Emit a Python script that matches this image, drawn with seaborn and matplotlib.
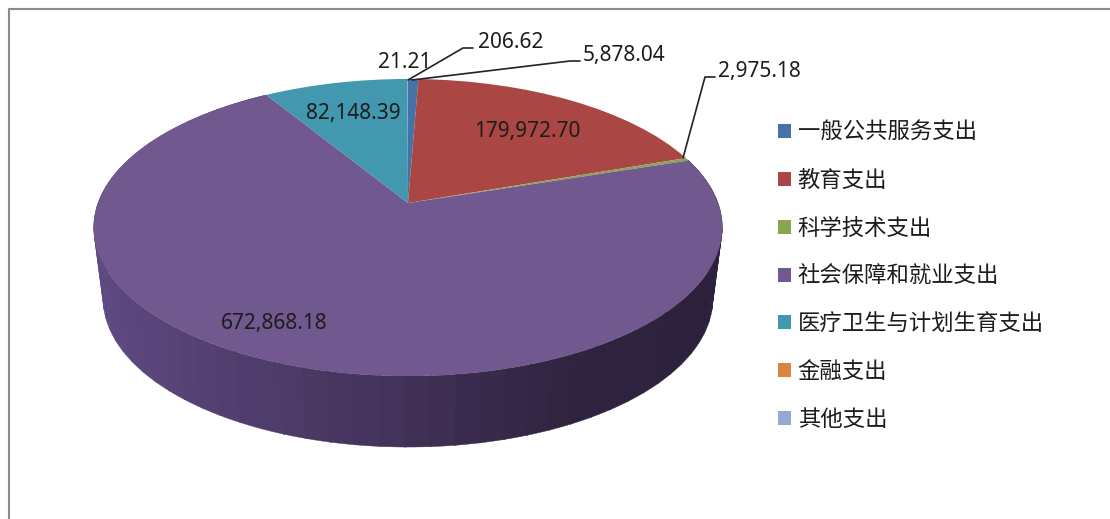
import numpy as np
import matplotlib
matplotlib.use("Agg")
import matplotlib.pyplot as plt
from matplotlib.transforms import Transform
import seaborn as sns

categories = ["一般公共服务支出", "教育支出", "科学技术支出", "社会保障和就业支出",
              "医疗卫生与计划生育支出", "金融支出", "其他支出"]
values = [5878.04, 179972.70, 2975.18, 672868.18, 82148.39, 21.21, 206.62]
colors = ["#4572A7", "#AA4643", "#89A54E", "#71588F", "#4198AF", "#DB843D", "#93A9CF"]

sns.set_theme(style="white")
plt.rcParams["font.family"] = ["Noto Sans CJK SC", "DejaVu Sans"]

APEX_X, APEX_Y = 408.0, 203.0
A, B, K = 310.0, 144.5, 0.165
DEPTH = 71.0


def project(xy):
    # tilted disc: unit circle to pixel coordinates
    x, y = xy[:, 0], xy[:, 1]
    d = 1 + K * y
    return np.column_stack([APEX_X + A * x / d, APEX_Y - B * y / d])


class Tilt(Transform):
    input_dims = 2
    output_dims = 2

    def transform_non_affine(self, xy):
        return project(np.asarray(xy))


fig = plt.figure(figsize=(11.1, 5.19), dpi=100)
ax = fig.add_axes([0, 0, 1, 1])

wedges, _ = ax.pie(values, colors=colors, startangle=90, counterclock=False,
                   wedgeprops={"linewidth": 0})
for w in wedges:
    w.set_transform(Tilt() + ax.transData)
    w.set_zorder(3)
    w.set_clip_on(False)

ax.set_aspect("auto")
ax.set_xlim(0, 1110)
ax.set_ylim(519, 0)
ax.axis("off")

# side of the pie, only the big slice shows there
big = wedges[categories.index("社会保障和就业支出")]
edges = np.arange(big.theta1, big.theta2 + 4, 4.0)
for t0, t1 in zip(edges[:-1], edges[1:]):
    t = np.radians(np.linspace(t0, min(t1, big.theta2) + 0.3, 4))
    top = project(np.column_stack([np.cos(t), np.sin(t)]))
    low = top.copy()
    low[:, 0] = APEX_X + (low[:, 0] - APEX_X) * 0.97
    low[:, 1] += DEPTH
    px = low[:, 0].mean()
    c = [np.interp(px, [100, 400, 560, 715], ch)
         for ch in ([95, 66, 48, 44], [74, 49, 36, 33], [130, 88, 65, 60])]
    ax.fill(np.r_[top[:, 0], low[::-1, 0]], np.r_[top[:, 1], low[::-1, 1]],
            color=np.array(c) / 255, lw=0.3, zorder=2)

# data labels
text_c = "#1c1c1c"
num = dict(fontsize=15, family="Noto Sans", color=text_c, va="center", zorder=5)
fmt = lambda v: f"{v:,.2f}"
ax.text(527, 131, fmt(values[1]), ha="center", **num)
ax.text(353, 113, fmt(values[4]), ha="center", **num)
ax.text(274, 324, fmt(values[3]), ha="center", **num)
ax.text(405, 63, fmt(values[5]), ha="center", **num)
ax.text(478, 42, fmt(values[6]), ha="left", **num)
ax.text(583, 55, fmt(values[0]), ha="left", **num)
ax.text(718, 72, fmt(values[2]), ha="left", **num)

# leader lines
ax.plot([408, 463, 473], [80, 48, 48], color="#222222", lw=1.2, zorder=4)
ax.plot([412, 570, 580], [80, 61, 61], color="#222222", lw=1.2, zorder=4)
ax.plot([683, 705, 715], [158, 77, 77], color="#222222", lw=1.2, zorder=4)

ax.legend(wedges, categories, loc="upper left", bbox_to_anchor=(778 / 1110, 1 - 121 / 519),
          frameon=False, fontsize=16.1, handlelength=0.58, handleheight=0.58,
          handletextpad=0.3, labelspacing=1.11, borderpad=0, borderaxespad=0,
          labelcolor="#1c1c1c")

# chart border, left and top only
ax.plot([8.5, 8.5, 1110], [519, 8.5, 8.5], color="#8a8a8a", lw=1.5,
        clip_on=False, zorder=1)

fig.savefig("out.png", dpi=100)
